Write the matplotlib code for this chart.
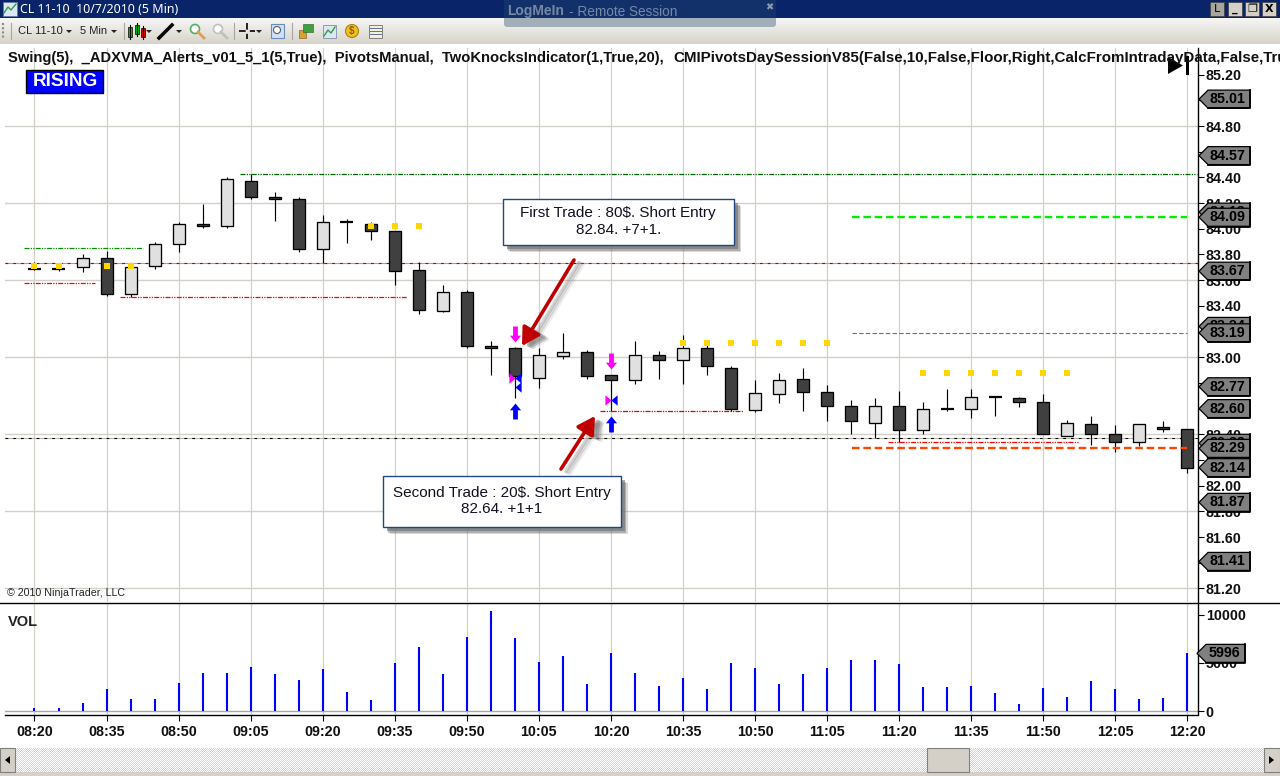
import numpy as np
import matplotlib
matplotlib.use("Agg")
import matplotlib.pyplot as plt
from matplotlib.patches import Rectangle, Polygon, FancyArrowPatch, Circle, FancyBboxPatch

plt.rcParams['font.family'] = ['Liberation Sans', 'DejaVu Sans']

# candles, one row per 5 min bar
opens = [83.69, 83.69, 83.70, 83.77, 83.49, 83.71, 83.88, 84.04, 84.02, 84.37,
         84.25, 84.23, 83.84, 84.05, 84.04, 83.98, 83.68, 83.36, 83.51, 83.09,
         83.07, 82.84, 83.01, 83.04, 82.86, 82.82, 83.02, 82.98, 83.07, 82.92,
         82.59, 82.71, 82.83, 82.73, 82.62, 82.49, 82.62, 82.43, 82.60, 82.60,
         82.69, 82.68, 82.65, 82.39, 82.48, 82.40, 82.34, 82.46, 82.44]
highs = [83.74, 83.73, 83.80, 83.83, 83.73, 83.90, 84.05, 84.19, 84.40, 84.43,
         84.29, 84.25, 84.11, 84.08, 84.05, 83.98, 83.74, 83.56, 83.52, 83.13,
         83.08, 83.07, 83.19, 83.06, 82.86, 83.13, 83.05, 83.17, 83.13, 82.93,
         82.82, 82.88, 82.92, 82.78, 82.67, 82.68, 82.74, 82.65, 82.75, 82.75,
         82.70, 82.69, 82.71, 82.51, 82.54, 82.47, 82.48, 82.50, 82.44]
lows = [83.68, 83.67, 83.66, 83.48, 83.47, 83.69, 83.82, 84.01, 84.01, 84.23,
        84.06, 83.82, 83.73, 83.89, 83.91, 83.56, 83.34, 83.35, 83.07, 82.86,
        82.68, 82.76, 82.99, 82.83, 82.58, 82.79, 82.83, 82.79, 82.86, 82.58,
        82.57, 82.64, 82.58, 82.50, 82.40, 82.37, 82.34, 82.40, 82.58, 82.53,
        82.54, 82.61, 82.40, 82.39, 82.32, 82.26, 82.31, 82.42, 82.10]
closes = [83.69, 83.69, 83.77, 83.49, 83.70, 83.88, 84.04, 84.02, 84.39, 84.25,
          84.23, 83.84, 84.05, 84.05, 83.98, 83.67, 83.37, 83.51, 83.09, 83.07,
          82.85, 83.02, 83.04, 82.85, 82.82, 83.02, 82.98, 83.07, 82.93, 82.60,
          82.72, 82.82, 82.73, 82.62, 82.50, 82.62, 82.43, 82.60, 82.60, 82.69,
          82.69, 82.65, 82.40, 82.49, 82.40, 82.34, 82.48, 82.44, 82.14]
up_bars = [2, 4, 5, 6, 8, 12, 17, 21, 22, 25, 27, 30, 31, 35, 37, 39, 43, 46]

volumes = [310, 310, 828, 2277, 1242, 1242, 2898, 3933, 3933, 4554, 3830, 3208,
           4347, 1966, 1138, 4968, 6624, 3830, 7659, 10350, 7555, 5071, 5692,
           2794, 6003, 3933, 2587, 3415, 2277, 4968, 4450, 2794, 3830, 4450,
           5278, 5278, 4864, 2484, 2484, 2587, 1863, 724, 2380, 1449, 3105,
           2277, 1242, 1345, 5996]

time_labels = ["08:20", "08:35", "08:50", "09:05", "09:20", "09:35", "09:50",
               "10:05", "10:20", "10:35", "10:50", "11:05", "11:20", "11:35",
               "11:50", "12:05", "12:20"]
price_ticks = [81.2, 81.4, 81.6, 81.8, 82.0, 82.2, 82.4, 82.6, 82.8, 83.0, 83.2,
               83.4, 83.6, 83.8, 84.0, 84.2, 84.4, 84.6, 84.8, 85.0, 85.2]
grid_prices = [81.2, 81.8, 82.4, 83.0, 83.6, 84.2, 84.8]

# the last price flags on the right, hidden ones come first
flag_values = [85.01, 84.57, 84.13, 84.09, 83.67, 83.24, 83.19, 82.77, 82.60,
               82.33, 82.29, 82.14, 81.87, 81.41]

# (price, first bar, last bar, colour)
thin_levels = [(83.85, -0.45, 4.5, "#009000"), (83.58, -0.45, 2.5, "#FF0000"),
               (83.47, 3.55, 15.5, "#FF0000"), (84.43, 8.55, 48.4, "#006400"),
               (82.58, 23.55, 29.5, "#E00000"), (82.34, 35.55, 43.5, "#FF0000")]
thick_levels = [(84.09, 34.05, 48, "#00F000"), (82.29, 34.05, 48, "#FF4500")]
grey_level = 83.19
full_levels = [(83.73, "#F08080", "#8A1010"), (82.37, "#B8B6B0", "#000000")]

dot_bars = [0, 1, 3, 4, 14, 15, 16, 27, 28, 29, 30, 31, 32, 33,
            37, 38, 39, 40, 41, 42, 43]
dot_prices = [83.71, 83.71, 83.71, 83.71, 84.02, 84.02, 84.02,
              83.11, 83.11, 83.11, 83.11, 83.11, 83.11, 83.11,
              82.88, 82.88, 82.88, 82.88, 82.88, 82.88, 82.88]

signal_bars = [20, 24]
down_arrow_prices = [83.18, 82.97]
up_arrow_prices = [82.58, 82.48]
magenta_marks = [82.84, 82.67]
blue_marks = [82.84, 82.67]

indicator_text_1 = ("Swing(5),  _ADXVMA_Alerts_v01_5_1(5,True),  PivotsManual,  "
                    "TwoKnocksIndicator(1,True,20),")
indicator_text_2 = "CMIPivotsDaySessionV85(False,10,False,Floor,Right,CalcFromIntradayData,False,True"

W, H = 1280, 776
GRID = "#D2D0C8"


def px_axes(left, top, right, bottom):
    return [left / W, (H - bottom) / H, (right - left) / W, (bottom - top) / H]


fig = plt.figure(figsize=(12.8, 7.76), dpi=100, facecolor="white")
ax = fig.add_axes(px_axes(5, 48, 1197.5, 602))
vol = fig.add_axes(px_axes(5, 603, 1197.5, 715))
ui = fig.add_axes([0, 0, 1, 1], zorder=5)
ui.patch.set_alpha(0)
ui.axis("off")

bars = np.arange(len(opens))
for a in (ax, vol):
    a.set_xlim(-1.228, 48.417)
    for s in ("left", "top"):
        a.spines[s].set_visible(False)
    a.spines["right"].set_linewidth(1.0)
    a.spines["bottom"].set_linewidth(1.0)
    a.yaxis.tick_right()
    for x in bars[::3]:
        a.axvline(x, color=GRID, lw=0.9, zorder=1)
    a.tick_params(axis="y", length=4, width=0.8, pad=2, labelsize=10.3)

# price panel
ax.set_ylim(81.094, 85.408)
ax.set_yticks(price_ticks)
ax.set_yticklabels(["%.2f" % p for p in price_ticks], fontweight="bold", color="#111111")
ax.set_xticks([])
ax.spines["bottom"].set_visible(False)
for p in grid_prices:
    ax.axhline(p, color=GRID, lw=1.0, zorder=1)

for p, under, over in full_levels:
    ax.axhline(p, color=under, lw=0.8, zorder=2)
    ax.axhline(p, color=over, lw=0.8, ls=(0, (2.5, 4.5)), zorder=2)
for p, a0, a1, c in thin_levels:
    ax.plot([a0, a1], [p, p], color=c, lw=0.9, ls=(0, (4, 1, 1, 1, 1, 1)), zorder=2)
ax.plot([34.05, 48], [grey_level, grey_level], color="#707070", lw=0.8,
        ls=(0, (4, 2)), zorder=2)

o = np.array(opens)
c = np.array(closes)
ax.vlines(bars, lows, highs, color="black", lw=0.85, zorder=3)
for i in bars:
    top, bot = max(o[i], c[i]), min(o[i], c[i])
    if top == bot:
        ax.plot([i - 0.27, i + 0.27], [top, top], color="black", lw=1.6,
                solid_capstyle="butt", zorder=4)
        continue
    face = "#E0E0E0" if i in up_bars else "#404040"
    ax.bar(i, top - bot, bottom=bot, width=0.5, color=face, edgecolor="black",
           linewidth=0.95, zorder=4)

for p, a0, a1, col in thick_levels:
    ax.plot([a0, a1], [p, p], color=col, lw=1.7, ls=(0, (3.2, 1.6)), zorder=5)

ax.scatter(dot_bars, dot_prices, marker="s", s=14, color="#FFD700", linewidths=0,
           zorder=6)

arrow_up = [(-0.3, -1), (0.3, -1), (0.3, 0.15), (0.7, 0.15), (0, 1), (-0.7, 0.15), (-0.3, 0.15)]
arrow_down = [(x, -y) for x, y in arrow_up]
tri_right = [(-0.6, -1), (0.6, 0), (-0.6, 1)]
tri_left = [(0.6, -1), (-0.6, 0), (0.6, 1)]
ax.plot(signal_bars, down_arrow_prices, ls="", marker=arrow_down, ms=11.5, mfc="#FF00FF",
        mec="none", zorder=7)
ax.plot(signal_bars, up_arrow_prices, ls="", marker=arrow_up, ms=11.5, mfc="#0000FF",
        mec="none", zorder=7)
ax.plot(np.array(signal_bars) - 0.11, magenta_marks, ls="", marker=tri_right, ms=7.5,
        mfc="#FF00FF", mec="none", zorder=7)
ax.plot(np.array(signal_bars) + 0.14, blue_marks, ls="", marker=tri_left, ms=7.5,
        mfc="#0000FF", mec="none", zorder=7)
ax.plot([20.14], [82.77], ls="", marker=tri_left, ms=7.5, mfc="#0000FF", mec="none", zorder=7)

# volume panel
vol.set_ylim(-383, 11209)
vol.set_yticks([0, 5000, 10000])
vol.set_yticklabels(["0", "5000", "10000"], fontweight="bold", color="#111111")
vol.axhline(0, color="#A8A8A8", lw=1.0, zorder=2)
vol.vlines(bars, 0, volumes, color="#0000FF", lw=1.5, zorder=3)
vol.set_xticks(bars[::3])
vol.set_xticklabels(time_labels, fontweight="bold", fontsize=10.3, color="#111111")
vol.tick_params(axis="x", length=4, width=0.8, pad=3.5)


# ---- everything below is window furniture, in plain pixels ----
def box(x0, y0, x1, y1, **kw):
    kw.setdefault("linewidth", 0)
    ui.add_patch(Rectangle((x0, y0), x1 - x0, y1 - y0, **kw))


def label(x, y, s, **kw):
    kw.setdefault("va", "center")
    kw.setdefault("color", "black")
    return ui.text(x, y, s, **kw)


def to_px(axis, value):
    return H - axis.transData.transform((0, value))[1]


def flag(y, s, x0=1199, x1=1250):
    pts = [(x0, y), (x0 + 9, y - 9), (x1, y - 9), (x1, y + 9), (x0 + 9, y + 9)]
    ui.add_patch(Polygon(pts, closed=True, fc="#808080", ec="black", lw=0.9, zorder=3))
    ui.plot([x0 + 9, x1, x1], [y + 9.3, y + 9.3, y - 9], color="black", lw=1.3, zorder=3)
    label((x0 + x1) / 2 + 3, y, s, ha="center", fontsize=10.3, fontweight="bold", zorder=3)


# top of the window
box(0, 0, W, 18, fc="#0A246A")
grad = np.linspace(0, 1, 26)[:, None, None] * (np.array([0.84, 0.83, 0.79]) - 0.965) + 0.965
ui.imshow(grad, extent=(0, W, 44, 18), aspect="auto", zorder=0)
box(0, 44, W, 46, fc="#FFFFFF")

box(3, 2, 17, 16, fc="#DCE6F4", ec="#6078A0", linewidth=0.6)
ui.plot([4, 8, 11, 16], [13, 7, 10, 4], color="#30A040", lw=1.0)
label(20, 9.3, "CL 11-10  10/7/2010 (5 Min)", color="white", fontsize=8.9, fontweight="bold",
      family="Noto Sans")

# LogMeIn overlay
ui.add_patch(FancyBboxPatch((504, -6), 272, 33, boxstyle="round,pad=0,rounding_size=3",
                            fc="#A3AFB8", lw=0, zorder=1))
box(504, 0, 776, 18, fc="#12306A", zorder=1)
label(507, 11.5, "LogMeIn", color="#7688A4", fontsize=10, fontweight="bold", zorder=2)
label(569, 11.5, "- Remote Session", color="#7688A4", fontsize=9.8, zorder=2)
label(769, 7, "✖", color="#8B9BB2", fontsize=7, ha="center", family="DejaVu Sans", zorder=2)

# window buttons
for x0, s in zip([1210, 1228, 1245, 1262], ["L", "_", "❐", "X"]):
    box(x0, 2, x0 + 14, 16, fc="#D4D0C8" if s != "L" else "#A8A59C", ec="#404040",
        linewidth=0.5)
    label(x0 + 7, 9, s, ha="center", fontsize=8, family="DejaVu Sans",
          fontweight="bold" if s != "L" else "normal")

# toolbar
for x in [11, 124, 234, 292]:
    ui.plot([x, x], [23, 39], color="#A8A69E", lw=0.8)
ui.plot([3, 3], [23, 38], color="#8C8A84", lw=1.5, ls=(0, (1, 1)))
label(18, 31.5, "CL 11-10", fontsize=8, color="#222222")
label(80, 31.5, "5 Min", fontsize=8, color="#222222")
for x in [69, 114, 149, 179, 259]:
    ui.add_patch(Polygon([(x - 3, 30), (x + 3, 30), (x, 33)], fc="#222222", lw=0))
for x, col, y0, y1 in [(130, "#00C000", 27, 37), (137, "#00C000", 25, 34), (143, "#E00000", 28, 37)]:
    ui.plot([x, x], [y0 - 2, y1 + 2], color="black", lw=0.8)
    box(x - 2, y0, x + 2, y1, fc=col, ec="black", linewidth=0.5)
ui.plot([159, 172], [38, 25], color="black", lw=2.5)
for x, col in [(195, "#50B060"), (218, "#C0C0C0")]:
    ui.add_patch(Circle((x, 29), 4.5, fc="white", ec=col, lw=1.2))
    ui.plot([x + 3, x + 9], [32, 38], color="#E0A050" if col != "#C0C0C0" else "#C0C0C0", lw=2)
ui.plot([239, 255], [31, 31], color="black", lw=1.2, ls=(0, (4, 2.5)))
ui.plot([247, 247], [23, 39], color="black", lw=1.2, ls=(0, (4, 2.5)))
box(271, 24, 284, 38, fc="#CFE0F4", ec="#6A8CB8", linewidth=0.8)
ui.add_patch(Circle((277, 30), 3.5, fc="white", ec="#606060", lw=0.8))
box(299, 30, 306, 38, fc="#D8A030", ec="#805010", linewidth=0.4)
box(303, 24, 313, 32, fc="#40A040", ec="#206020", linewidth=0.4)
box(323, 25, 336, 38, fc="#DCE6F4", ec="#8090A8", linewidth=0.6)
ui.plot([324, 328, 331, 335], [36, 30, 33, 27], color="#30A040", lw=1.0)
ui.add_patch(Circle((352, 31), 6.5, fc="#F0C020", ec="#B08010", lw=0.8))
label(352, 31, "$", ha="center", fontsize=7, fontweight="bold", color="#906000")
box(369, 25, 382, 38, fc="#F4F0D8", ec="#707070", linewidth=0.6)
for y in [28, 31, 34]:
    ui.plot([370, 381], [y, y], color="#6070A0", lw=0.7)

# text sitting on the chart
label(8, 58, indicator_text_1, fontsize=10.6, fontweight="bold", color="#111111")
label(673, 58, indicator_text_2, fontsize=10.9, fontweight="bold", color="#111111", clip_on=True)
box(25.5, 70, 102.5, 92.5, fc="#0000FF", ec="black", linewidth=1.0)
label(65, 81, "RISING", ha="center", color="white", fontsize=13.7, fontweight="bold")
ui.add_patch(Polygon([(1168, 57), (1168, 74), (1183, 65.5)], fc="black", lw=0))
box(1186, 56, 1189, 75, fc="black")
label(7, 593, "© 2010 NinjaTrader, LLC", fontsize=7.7, color="#222222")
label(8, 622, "VOL", fontsize=10.5, fontweight="bold", color="#222222")

# axis lines that run past the panels
ui.plot([0, W], [602.5, 602.5], color="black", lw=1.0)

# last price flags
for v in flag_values:
    flag(to_px(ax, v), "%.2f" % v)
flag(to_px(vol, volumes[-1]), "%d" % volumes[-1], x0=1197, x1=1245)

# callouts
for x0, y0, x1, y1, s in [(502.5, 199, 734, 245, "First Trade : 80$. Short Entry\n82.84. +7+1."),
                          (382.5, 476, 620.5, 527, "Second Trade : 20$. Short Entry\n82.64. +1+1")]:
    for off, alpha in [(7, 0.25), (5.5, 0.4), (4, 0.6)]:
        box(x0 + off, y0 + off, x1 + off, y1 + off, fc="#6E6E6E", alpha=alpha, zorder=3)
    box(x0, y0, x1, y1, fc="white", ec="#1F497D", linewidth=1.0, zorder=3)
    label((x0 + x1) / 2, (y0 + y1) / 2 - 0.5, s, ha="center", fontsize=11, linespacing=1.2,
          color="#101020", zorder=4)

# red arrows drawn over the shot
for tail, tip in [((574, 260), (522, 346)), ((561, 469), (595, 416))]:
    for off, alpha in [(9, 0.15), (7, 0.25), (5, 0.35)]:
        ui.add_patch(FancyArrowPatch((tail[0] + off, tail[1] + off * 0.5), (tip[0] + off, tip[1] + off * 0.5),
                                     arrowstyle="-|>,head_length=0.7,head_width=0.4", mutation_scale=15,
                                     color="#808080", alpha=alpha, lw=2.6, shrinkA=0, shrinkB=0, zorder=2))
    ui.add_patch(FancyArrowPatch(tail, tip, arrowstyle="-|>,head_length=0.7,head_width=0.4",
                                 mutation_scale=15, color="#C00000", lw=2.6, shrinkA=0, shrinkB=0, zorder=2))

# scrollbar
yy, xx = np.indices((24, W))
stipple = np.where((xx + yy) % 2 == 0, 1.0, 0.83)
ui.imshow(stipple, cmap="gray", vmin=0, vmax=1, extent=(0, W, 772, 748), aspect="auto",
          interpolation="nearest", zorder=0)
box(0, 772, W, H, fc="#D4D0C8")
for x0, x1 in [(0, 15), (927, 969), (1264, W)]:
    box(x0, 748, x1, 772, fc="#D4D0C8", ec="#808080", linewidth=0.8, zorder=1)
ui.add_patch(Polygon([(5, 760), (10, 756), (10, 764)], fc="black", lw=0, zorder=2))
ui.add_patch(Polygon([(1274, 760), (1269, 756), (1269, 764)], fc="black", lw=0, zorder=2))

ui.set_xlim(0, W)
ui.set_ylim(H, 0)
fig.savefig("out.png", dpi=100)
